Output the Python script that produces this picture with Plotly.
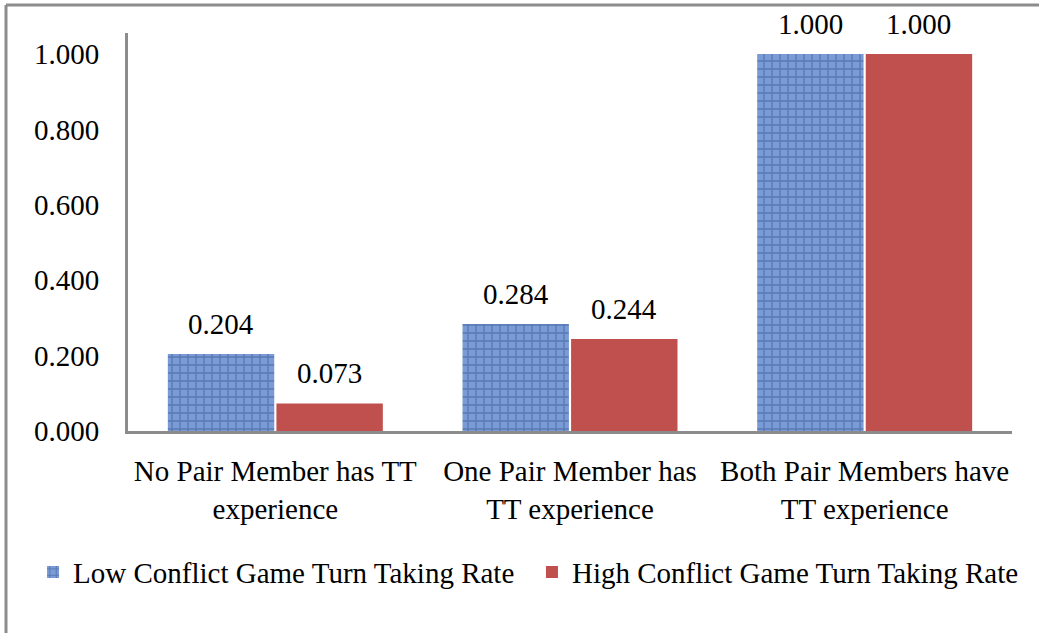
import plotly.graph_objects as go

categories = ["No Pair Member has TT<br>experience",
              "One Pair Member has<br>TT experience",
              "Both Pair Members have<br>TT experience"]
low_conflict = [0.204, 0.284, 1.000]
high_conflict = [0.073, 0.244, 1.000]
series_names = ["Low Conflict Game Turn Taking Rate",
                "High Conflict Game Turn Taking Rate"]
y_ticks = [0.0, 0.2, 0.4, 0.6, 0.8, 1.0]

FONT = "Liberation Serif, Times New Roman, serif"
FS = 29
AXIS_COLOR = "#8c8c8c"

fig = go.Figure()
fig.add_trace(go.Bar(
    x=categories, y=low_conflict, name=series_names[0], legend="legend",
    showlegend=True,
    marker=dict(color="#7193CF",
                pattern=dict(shape="+", bgcolor="#7A9BD6", fgcolor="#34558F",
                             size=8, solidity=0.3, fillmode="overlay"),
                line=dict(width=0)),
))
fig.add_trace(go.Bar(
    x=categories, y=high_conflict, name=series_names[1], legend="legend2",
    showlegend=True,
    marker=dict(color="#C0504D", line=dict(width=0)),
))

# value labels above the bars (offset to each bar of the group)
for vals, shift in ((low_conflict, -54), (high_conflict, 54)):
    for c, v in zip(categories, vals):
        fig.add_annotation(x=c, y=v, text=f"{v:.3f}", showarrow=False,
                           xshift=shift, yshift=12, yanchor="bottom",
                           font=dict(family=FONT, size=FS, color="black"))

legend_common = dict(orientation="h", xref="container", yref="container",
                     y=0.096, xanchor="left", yanchor="middle",
                     font=dict(family=FONT, size=FS, color="black"),
                     itemwidth=30, visible=True)

fig.update_layout(
    width=1039, height=633, showlegend=True,
    paper_bgcolor="white", plot_bgcolor="white",
    margin=dict(l=128, r=27, t=33, b=202, autoexpand=False),
    barmode="group", bargap=0.263, bargroupgap=0.02,
    font=dict(family=FONT, size=FS, color="black"),
    legend=dict(x=0.0318, **legend_common),
    legend2=dict(x=0.512, **legend_common),
)
# frame borders (top and left)
fig.add_shape(type="line", xref="paper", yref="paper", x0=-0.138, x1=1.1,
              y0=1.0704, y1=1.0704, line=dict(color=AXIS_COLOR, width=3))
fig.add_shape(type="line", xref="paper", yref="paper", x0=-0.138, x1=-0.138,
              y0=-0.6, y1=1.0704, line=dict(color=AXIS_COLOR, width=3))

fig.update_xaxes(showline=True, linecolor=AXIS_COLOR, linewidth=3,
                 showgrid=False, ticks="", tickfont=dict(size=FS),
                 ticklabelstandoff=12)
fig.update_yaxes(range=[0, 1.0557], tickvals=y_ticks,
                 ticktext=[f"{v:.3f}" for v in y_ticks],
                 showline=True, linecolor=AXIS_COLOR, linewidth=3,
                 showgrid=False, zeroline=False, ticks="",
                 tickfont=dict(size=FS), ticklabelstandoff=20)

fig.write_html("out.html", config={"displayModeBar": False},
               post_script="document.body.style.margin='0';")
